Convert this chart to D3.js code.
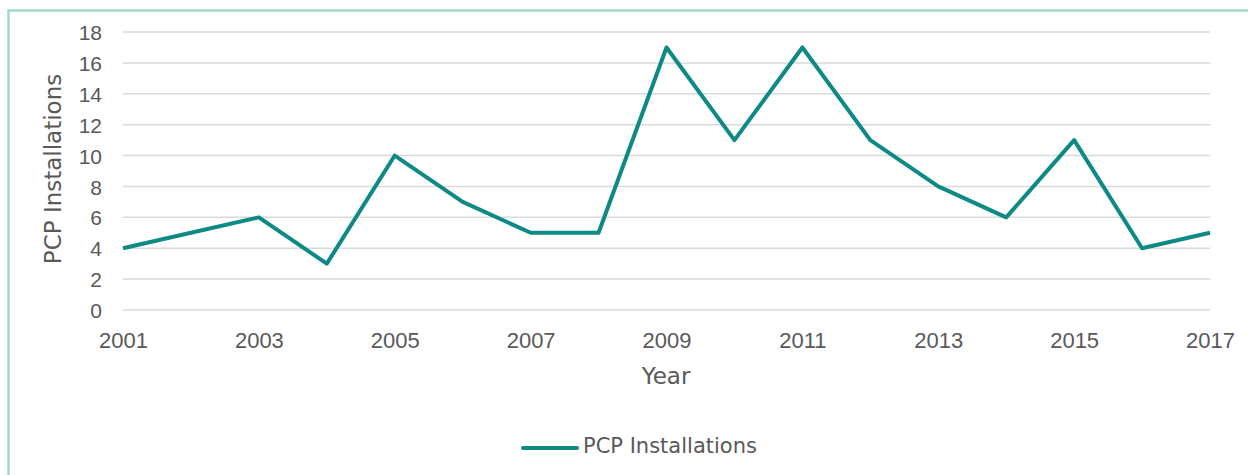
<!DOCTYPE html>
<html><head><meta charset="utf-8">
<script src="https://cdn.jsdelivr.net/npm/d3@7"></script>
<style>body{margin:0;background:#fff;}svg{display:block;font-family:"DejaVu Sans",sans-serif;}</style>
</head><body>
<svg id="c" width="1248" height="475"></svg>
<script>
const years = [2001,2002,2003,2004,2005,2006,2007,2008,2009,2010,2011,2012,2013,2014,2015,2016,2017];
const installations = [4,5,6,3,10,7,5,5,17,11,17,11,8,6,11,4,5];
const yTicks = [0,2,4,6,8,10,12,14,16,18];
const xTickLabels = [2001,2003,2005,2007,2009,2011,2013,2015,2017];
const seriesName = "PCP Installations";

const svg = d3.select("#c");
const color = "#0e8a86", txt = "#595959";
// border
svg.append("path").attr("d","M8.5,475 L8.5,10.5 L1248,10.5").attr("fill","none").attr("stroke","#a3dcc4").attr("stroke-width",2.5);

const x = d3.scaleLinear().domain([2001,2017]).range([123,1210]);
const y = d3.scaleLinear().domain([0,18]).range([310,32]);

const g = svg.append("g");
g.selectAll("line.grid").data(yTicks).join("line")
  .attr("x1",123).attr("x2",1210).attr("y1",d=>y(d)).attr("y2",d=>y(d))
  .attr("stroke","#d9d9d9").attr("stroke-width",1.5);

const yAxis = d3.axisLeft(y).tickValues(yTicks).tickSize(0).tickPadding(0);
const ya = svg.append("g").attr("transform","translate(102,0)").call(yAxis);
ya.select(".domain").remove();
ya.selectAll("text").attr("fill",txt).style("font-size","21px").attr("dy","0.36em");

const xAxis = d3.axisBottom(x).tickValues(xTickLabels).tickFormat(d3.format("d")).tickSize(0).tickPadding(0);
const xa = svg.append("g").attr("transform","translate(0,348)").call(xAxis);
xa.select(".domain").remove();
xa.selectAll("text").attr("fill",txt).style("font-size","22px").attr("dy","0");

svg.append("path").datum(years.map((yr,i)=>[yr,installations[i]]))
  .attr("fill","none").attr("stroke",color).attr("stroke-width",4).attr("stroke-linejoin","round")
  .attr("d",d3.line().x(d=>x(d[0])).y(d=>y(d[1])));

svg.append("text").attr("x",666).attr("y",384).attr("text-anchor","middle").attr("fill",txt).style("font-size","23px").text("Year");
svg.append("text").attr("transform","translate(61,169) rotate(-90)").attr("text-anchor","middle").attr("fill",txt).style("font-size","23px").text(seriesName);

svg.append("line").attr("x1",523).attr("x2",577).attr("y1",448).attr("y2",448).attr("stroke",color).attr("stroke-width",4).attr("stroke-linecap","round");
svg.append("text").attr("x",583).attr("y",453).attr("fill",txt).style("font-size","21px").text(seriesName);
</script>
</body></html>
